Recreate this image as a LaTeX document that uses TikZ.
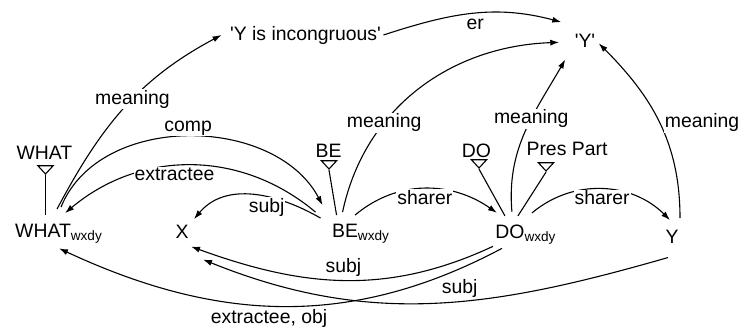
\documentclass[tikz,border=0pt]{standalone}
\usepackage{fontspec}
\setmainfont{Liberation Sans}
\usetikzlibrary{arrows.meta,shapes.geometric}

\begin{document}
\begin{tikzpicture}[x=0.5pt, y=0.5pt, line width=0.55pt,
  every node/.style={font=\fontsize{9.7}{11}\selectfont, inner sep=1pt},
  word/.style={anchor=base, inner ysep=4pt},
  lbl/.style={fill=white, inner sep=0.5pt},
  tri/.style={draw, regular polygon, regular polygon sides=3, shape border rotate=180, inner sep=0pt, minimum size=5.5pt, xscale=1.6, transform shape},
  arr/.style={-{Latex[length=4.5pt,width=3pt]}}]
\useasboundingbox (0,0) rectangle (753,328);

% senses
\node[word] (yinc) at (305.5,288) {\textquotesingle Y is incongruous\textquotesingle};
\node[word] (yq) at (585,281) {\textquotesingle Y\textquotesingle};

% lexemes and their triangles
\node[word] (what) at (44.5,169) {WHAT};
\node[word] (be) at (328.5,171) {BE};
\node[word] (do) at (476.5,171) {DO};
\node[word] (pp) at (567,173) {Pres Part};
\node[tri] (wtri) at (45.5,159.5) {};
\node[tri] (betri) at (329,164.5) {};
\node[tri] (dotri) at (479,165.5) {};
\node[tri] (pptri) at (546,162.5) {};

% word tokens
\node[word] (whatw) at (59,91) {WHAT\textsubscript{wxdy}};
\node[word] (x) at (182,90) {X};
\node[word] (bew) at (361,91) {BE\textsubscript{wxdy}};
\node[word] (dow) at (526,90) {DO\textsubscript{wxdy}};
\node[word] (y) at (672,85) {Y};

% isa lines
\draw (wtri.corner 1) -- (wtri.corner 1 |- whatw.north);
\draw (betri.corner 1) -- ([xshift=3.5pt]bew.north west);
\draw (dotri.corner 1) -- ([xshift=6pt]dow.north west);
\draw (pptri.corner 1) -- ([xshift=12.5pt]dow.north west);

% meaning links
\draw[arr] ([xshift=-1pt,yshift=3pt]whatw.north) to[out=62,in=208] node[lbl,pos=.55] {meaning} ([xshift=-3pt]yinc.west);
\draw[arr] ([xshift=6.5pt,yshift=1.5pt]bew.north west) to[out=78,in=182] node[lbl,pos=.33] {meaning} ([xshift=-6.5pt,yshift=-1pt]yq.west);
\draw[arr] ([xshift=9.5pt,yshift=2pt]dow.north west) to[out=95,in=240] node[lbl,pos=.6] {meaning} ([xshift=-3.5pt,yshift=-2pt]yq.south west);
\draw[arr] ([xshift=4pt,yshift=1.5pt]y.north) to[out=90,in=315] node[lbl,right=2pt,pos=.5] {meaning} ([xshift=0.5pt,yshift=-1.5pt]yq.east);
\draw[arr] (yinc.east) to[out=18,in=165] node[lbl,below=2pt,pos=.52] {er} ([xshift=-5.5pt,yshift=1.5pt]yq.north west);

% dependencies above
\draw[arr] ([xshift=1pt,yshift=4pt]whatw.north) to[out=68,in=118] node[lbl,above,pos=.5] {comp} ([xshift=-3.5pt,yshift=5pt]bew.north west);
\draw[arr] ([xshift=-7pt,yshift=1.5pt]bew.north west) to[out=140,in=40] node[lbl,below,pos=.56] {extractee} ([xshift=3pt,yshift=1pt]whatw.north);
\draw[arr] ([xshift=-4.5pt,yshift=-1.5pt]bew.north west) to[out=150,in=50] node[lbl,below,pos=.4] {subj} ([xshift=1.5pt,yshift=-1.5pt]x.north east);
\draw[arr] ([xshift=-3pt]bew.north) to[out=40,in=145] node[lbl,below,pos=.5] {sharer} ([xshift=2pt,yshift=1.5pt]dow.north west);
\draw[arr] ([xshift=3pt,yshift=1.5pt]dow.north) to[out=40,in=135] node[lbl,below,pos=.5] {sharer} ([xshift=-1pt,yshift=0.5pt]y.north);

% dependencies below
\draw[arr] ([yshift=3pt]dow.south west) to[out=205,in=340] node[lbl,above=1pt,pos=.5] {subj} ([yshift=0pt]x.south east);
\draw[arr] ([xshift=4.5pt,yshift=2pt]dow.south west) to[out=208,in=335] node[lbl,below=1pt,pos=.53] {extractee, obj} ([yshift=1.5pt]whatw.south);
\draw[arr] ([xshift=-2pt,yshift=-3pt]y.south) to[out=196,in=338] node[lbl,above=1pt,pos=.44] {subj} ([xshift=6pt,yshift=-6.5pt]x.south east);
\end{tikzpicture}
\end{document}
